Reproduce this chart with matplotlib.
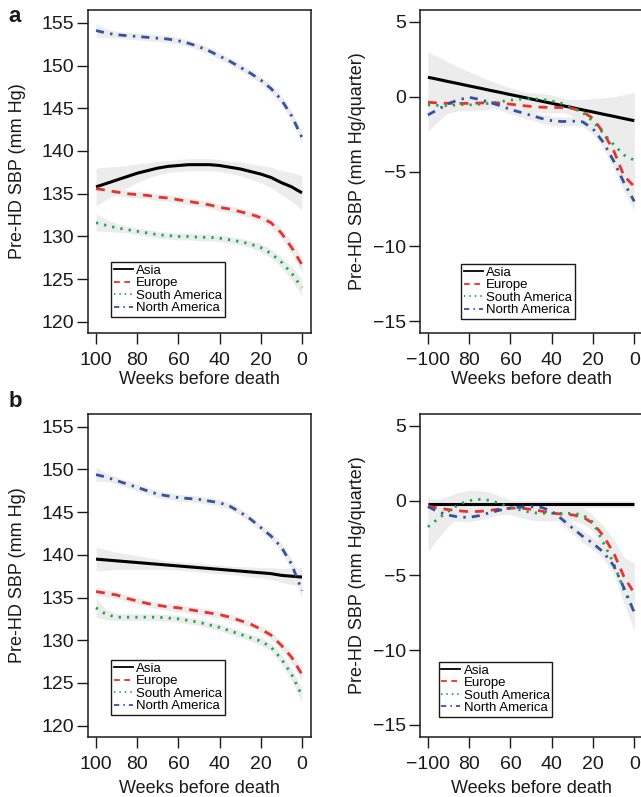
import matplotlib.pyplot as plt
from matplotlib.lines import Line2D

plt.rcParams['font.family'] = ['Liberation Sans', 'DejaVu Sans']

# weeks before death (left panels run 100 -> 0, right panels -100 -> 0)
weeks_left = [100, 95, 90, 85, 80, 75, 70, 65, 60, 55, 50, 45, 40, 35, 30, 25, 20, 15, 10, 5, 0]
weeks_right = [-100, -95, -90, -85, -80, -75, -70, -65, -60, -55, -50, -45, -40, -35, -30, -25, -20, -15, -10, -5, 0]

regions = ["Asia", "Europe", "South America", "North America"]

# panel a, left: pre-HD SBP (mm Hg)
a_abs_asia = [135.8, 136.2, 136.6, 137.0, 137.4, 137.7, 138.0, 138.2, 138.3, 138.4, 138.4, 138.4, 138.3, 138.1, 137.9, 137.6, 137.3, 136.9, 136.3, 135.8, 135.1]
a_abs_asia_ci = [2.2, 1.9, 1.6, 1.3, 1.1, 0.9, 0.8, 0.7, 0.7, 0.7, 0.7, 0.7, 0.7, 0.7, 0.8, 0.9, 1.0, 1.2, 1.4, 1.7, 2.0]
a_abs_eur = [135.6, 135.4, 135.2, 135.0, 134.9, 134.8, 134.6, 134.5, 134.3, 134.1, 133.9, 133.7, 133.4, 133.2, 132.9, 132.6, 132.2, 131.6, 130.4, 128.7, 126.7]
a_abs_eur_ci = [0.5, 0.4, 0.4, 0.4, 0.4, 0.4, 0.4, 0.4, 0.4, 0.4, 0.4, 0.4, 0.4, 0.4, 0.4, 0.4, 0.4, 0.5, 0.6, 0.7, 0.9]
a_abs_sam = [131.6, 131.3, 131.0, 130.8, 130.6, 130.4, 130.2, 130.1, 130.0, 130.0, 129.9, 129.9, 129.8, 129.6, 129.4, 129.1, 128.7, 128.0, 127.0, 125.7, 124.0]
a_abs_sam_ci = [1.0, 0.7, 0.5, 0.4, 0.4, 0.4, 0.4, 0.4, 0.4, 0.4, 0.4, 0.4, 0.4, 0.4, 0.4, 0.4, 0.5, 0.5, 0.6, 0.8, 1.0]
a_abs_nam = [154.1, 153.8, 153.6, 153.5, 153.4, 153.3, 153.2, 153.1, 152.9, 152.6, 152.2, 151.7, 151.1, 150.5, 149.8, 149.1, 148.3, 147.3, 146.0, 144.1, 141.6]
a_abs_nam_ci = [0.8, 0.5, 0.4, 0.4, 0.4, 0.4, 0.4, 0.4, 0.4, 0.4, 0.4, 0.4, 0.4, 0.4, 0.4, 0.4, 0.4, 0.5, 0.5, 0.6, 0.8]

# panel a, right: change in pre-HD SBP (mm Hg/quarter)
a_chg_asia = [1.3, 1.16, 1.01, 0.87, 0.72, 0.58, 0.43, 0.29, 0.14, 0.0, -0.15, -0.3, -0.44, -0.59, -0.73, -0.88, -1.02, -1.17, -1.31, -1.46, -1.6]
a_chg_asia_ci = [1.7, 1.5, 1.3, 1.1, 0.95, 0.8, 0.65, 0.55, 0.45, 0.4, 0.35, 0.35, 0.4, 0.45, 0.55, 0.7, 0.9, 1.1, 1.3, 1.6, 1.9]
a_chg_eur = [-0.37, -0.42, -0.44, -0.45, -0.44, -0.42, -0.4, -0.42, -0.5, -0.58, -0.65, -0.7, -0.72, -0.72, -0.78, -1.0, -1.45, -2.4, -3.6, -5.3, -6.0]
a_chg_eur_ci = [0.4, 0.35, 0.35, 0.35, 0.35, 0.35, 0.35, 0.35, 0.35, 0.35, 0.35, 0.35, 0.35, 0.35, 0.35, 0.4, 0.5, 0.6, 0.8, 1.0, 1.3]
a_chg_sam = [-0.55, -0.58, -0.6, -0.52, -0.55, -0.5, -0.44, -0.33, -0.23, -0.16, -0.13, -0.17, -0.28, -0.45, -0.72, -1.05, -1.65, -2.45, -3.2, -3.9, -4.25]
a_chg_sam_ci = [0.8, 0.6, 0.5, 0.4, 0.4, 0.4, 0.4, 0.4, 0.4, 0.4, 0.4, 0.4, 0.4, 0.4, 0.4, 0.45, 0.5, 0.6, 0.8, 1.0, 1.2]
a_chg_nam = [-1.22, -0.84, -0.45, -0.2, -0.04, -0.18, -0.38, -0.6, -0.85, -1.05, -1.25, -1.45, -1.6, -1.66, -1.63, -1.68, -2.15, -3.05, -4.3, -5.75, -7.0]
a_chg_nam_ci = [1.1, 0.8, 0.6, 0.45, 0.4, 0.35, 0.3, 0.3, 0.3, 0.3, 0.3, 0.3, 0.3, 0.3, 0.3, 0.3, 0.35, 0.4, 0.45, 0.55, 0.65]

# panel b, left
b_abs_asia = [139.5, 139.4, 139.3, 139.2, 139.1, 139.0, 138.9, 138.8, 138.7, 138.6, 138.5, 138.4, 138.3, 138.2, 138.1, 138.0, 137.9, 137.8, 137.6, 137.5, 137.4]
b_abs_asia_ci = [1.4, 1.2, 1.0, 0.9, 0.8, 0.7, 0.6, 0.5, 0.5, 0.5, 0.5, 0.5, 0.5, 0.5, 0.5, 0.6, 0.6, 0.7, 0.8, 1.0, 1.1]
b_abs_eur = [135.7, 135.5, 135.3, 134.9, 134.6, 134.3, 134.1, 133.9, 133.8, 133.6, 133.4, 133.2, 133.0, 132.7, 132.3, 131.9, 131.3, 130.6, 129.4, 128.0, 126.0]
b_abs_eur_ci = [0.5, 0.4, 0.4, 0.4, 0.4, 0.4, 0.4, 0.4, 0.4, 0.4, 0.4, 0.4, 0.4, 0.4, 0.4, 0.4, 0.4, 0.5, 0.5, 0.6, 0.8]
b_abs_sam = [133.8, 133.0, 132.7, 132.7, 132.7, 132.7, 132.7, 132.6, 132.5, 132.3, 132.1, 131.8, 131.5, 131.1, 130.7, 130.3, 129.9, 129.2, 127.8, 126.0, 123.5]
b_abs_sam_ci = [1.1, 0.6, 0.4, 0.4, 0.4, 0.4, 0.4, 0.4, 0.4, 0.4, 0.4, 0.4, 0.4, 0.4, 0.4, 0.4, 0.5, 0.5, 0.6, 0.7, 0.8]
b_abs_nam = [149.4, 149.1, 148.7, 148.3, 147.9, 147.5, 147.1, 146.9, 146.7, 146.6, 146.5, 146.3, 146.1, 145.7, 145.0, 144.2, 143.2, 142.2, 140.9, 138.9, 135.8]
b_abs_nam_ci = [0.8, 0.5, 0.4, 0.4, 0.4, 0.4, 0.4, 0.4, 0.4, 0.4, 0.4, 0.4, 0.4, 0.4, 0.4, 0.4, 0.4, 0.5, 0.5, 0.6, 0.8]

# panel b, right
b_chg_asia = [-0.25] * 21
b_chg_asia_ci = [0.25] * 21
b_chg_eur = [-0.36, -0.5, -0.6, -0.68, -0.74, -0.72, -0.65, -0.56, -0.5, -0.5, -0.58, -0.7, -0.84, -0.9, -0.95, -1.08, -1.52, -2.35, -3.5, -5.1, -6.2]
b_chg_eur_ci = [0.6, 0.5, 0.45, 0.4, 0.4, 0.4, 0.4, 0.4, 0.4, 0.4, 0.4, 0.4, 0.4, 0.4, 0.4, 0.45, 0.5, 0.7, 0.9, 1.3, 2.0]
b_chg_sam = [-1.75, -1.2, -0.7, -0.25, 0.0, 0.08, 0.02, -0.2, -0.45, -0.63, -0.8, -0.85, -0.85, -0.85, -0.85, -0.95, -1.45, -2.8, -4.2, -6.0, -7.4]
b_chg_sam_ci = [1.65, 1.3, 1.0, 0.8, 0.7, 0.6, 0.55, 0.5, 0.5, 0.5, 0.5, 0.5, 0.5, 0.5, 0.5, 0.5, 0.5, 0.6, 0.7, 0.9, 1.25]
b_chg_nam = [-0.4, -0.75, -0.97, -1.1, -1.12, -1.0, -0.8, -0.63, -0.5, -0.43, -0.4, -0.45, -0.7, -1.25, -1.83, -2.39, -2.86, -3.45, -4.35, -5.85, -7.5]
b_chg_nam_ci = [0.5, 0.4, 0.35, 0.3, 0.3, 0.3, 0.3, 0.3, 0.3, 0.3, 0.3, 0.3, 0.3, 0.3, 0.35, 0.4, 0.4, 0.45, 0.55, 0.7, 1.0]

colors = ["black", "#e8312c", "#17a84a", "#3452a4"]
styles = ["-", (0, (3.2, 2.5)), (0, (0.8, 2.2)), (0, (2.9, 2.3, 0.85, 2.2))]
widths = [2.2, 2.0, 2.0, 2.0]
band_color = "#ececec"
ink = "#1a1a1a"

W, H = 641, 797
fig = plt.figure(figsize=(W / 100, H / 100), dpi=100)


def px_axes(x0, y0, x1, y1):
    return fig.add_axes([x0 / W, 1 - y1 / H, (x1 - x0) / W, (y1 - y0) / H])


def draw_panel(ax, x, series, cis):
    for y, ci in zip(series, cis):
        lo = [v - c for v, c in zip(y, ci)]
        hi = [v + c for v, c in zip(y, ci)]
        ax.fill_between(x, lo, hi, color=band_color, lw=0, zorder=1)
    for y, c, ls, lw in zip(series, colors, styles, widths):
        ax.plot(x, y, color=c, ls=ls, lw=lw, zorder=3,
                solid_capstyle="butt", dash_capstyle="butt")
    for s in ax.spines.values():
        s.set_linewidth(1.1)
        s.set_color(ink)
    ax.tick_params(length=8, width=1, color=ink, labelcolor=ink, labelsize=14)
    ax.tick_params(axis="x", pad=6)
    ax.tick_params(axis="y", pad=2)


def add_legend(ax, x0, y1):
    handles = [Line2D([], [], color=c, ls=ls, lw=1.3) for c, ls in zip(colors, styles)]
    ax.legend(handles, regions, loc="lower left",
              bbox_to_anchor=(x0 / W, 1 - y1 / H), bbox_transform=fig.transFigure,
              borderaxespad=0, fontsize=9.5, frameon=True, fancybox=False,
              edgecolor=ink, framealpha=1, handlelength=1.45, handletextpad=0.25,
              labelspacing=0.02, borderpad=0.2)
    ax.get_legend().get_frame().set_linewidth(1.0)


def setup_left(ax):
    ax.set_xlim(103.9, -4.4)
    ax.set_ylim(118.7, 156.5)
    ax.set_xticks([100, 80, 60, 40, 20, 0])
    ax.set_yticks([120, 125, 130, 135, 140, 145, 150, 155])
    ax.set_ylabel("Pre-HD SBP (mm Hg)", fontsize=13, color=ink)
    ax.set_xlabel("Weeks before death", fontsize=13, color=ink)
    ax.yaxis.set_label_coords(-0.28, 0.5)


def setup_right(ax):
    ax.set_xlim(-103.7, 4.4)
    ax.set_ylim(-15.8, 5.8)
    ax.set_xticks([-100, -80, -60, -40, -20, 0])
    ax.set_xticklabels(["\u2212100", "80", "60", "40", "20", "0"])
    ax.set_yticks([-15, -10, -5, 0, 5])
    ax.set_ylabel("Pre-HD SBP (mm Hg/quarter)", fontsize=13, color=ink)
    ax.set_xlabel("Weeks before death", fontsize=13, color=ink)
    ax.yaxis.set_label_coords(-0.243, 0.5)


# top row (a)
ax1 = px_axes(88, 10, 311, 333)
draw_panel(ax1, weeks_left, [a_abs_asia, a_abs_eur, a_abs_sam, a_abs_nam],
           [a_abs_asia_ci, a_abs_eur_ci, a_abs_sam_ci, a_abs_nam_ci])
setup_left(ax1)
ax1.xaxis.set_label_coords(0.5, -0.118)
add_legend(ax1, 111, 317)

ax2 = px_axes(420.3, 10, 643.4, 333)
draw_panel(ax2, weeks_right, [a_chg_asia, a_chg_eur, a_chg_sam, a_chg_nam],
           [a_chg_asia_ci, a_chg_eur_ci, a_chg_sam_ci, a_chg_nam_ci])
setup_right(ax2)
ax2.xaxis.set_label_coords(0.5, -0.118)
add_legend(ax2, 461, 319)

# bottom row (b)
ax3 = px_axes(88, 414, 311, 736.7)
draw_panel(ax3, weeks_left, [b_abs_asia, b_abs_eur, b_abs_sam, b_abs_nam],
           [b_abs_asia_ci, b_abs_eur_ci, b_abs_sam_ci, b_abs_nam_ci])
setup_left(ax3)
ax3.xaxis.set_label_coords(0.5, -0.135)
add_legend(ax3, 111, 715)

ax4 = px_axes(420.3, 414, 643.4, 736.7)
draw_panel(ax4, weeks_right, [b_chg_asia, b_chg_eur, b_chg_sam, b_chg_nam],
           [b_chg_asia_ci, b_chg_eur_ci, b_chg_sam_ci, b_chg_nam_ci])
setup_right(ax4)
ax4.xaxis.set_label_coords(0.5, -0.135)
add_legend(ax4, 438.7, 716.7)

fig.text(15 / W, 1 - 17 / H, "a", fontsize=16, fontweight="bold", ha="center", va="center", color=ink)
fig.text(15 / W, 1 - 402 / H, "b", fontsize=16, fontweight="bold", ha="center", va="center", color=ink)

fig.savefig("out.png", dpi=100)
